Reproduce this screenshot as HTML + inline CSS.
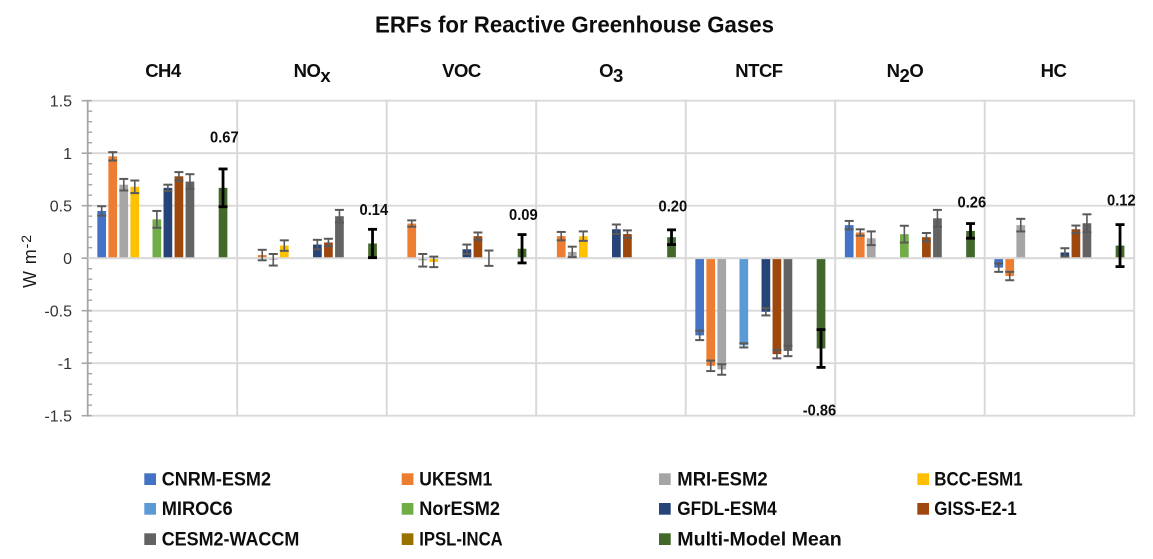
<!DOCTYPE html>
<html lang="en">
<head>
<meta charset="utf-8">
<title>ERFs for Reactive Greenhouse Gases</title>
<style>
  html, body { margin: 0; padding: 0; background: #fff; }
  #chart { display: block; width: 1153px; height: 559px; filter: blur(0.35px); font-family: "Liberation Sans", sans-serif; }
  .legend-text { font-size: 19.5px; font-weight: bold; fill: #0d0d0d; }
</style>
</head>
<body>
<svg id="chart" xmlns="http://www.w3.org/2000/svg" width="1153" height="559" viewBox="0 0 1153 559">
  <rect x="0" y="0" width="1153" height="559" fill="#ffffff"/>
  <text x="375" y="32.3" font-size="23.5" font-weight="bold" fill="#0d0d0d" textLength="399" lengthAdjust="spacingAndGlyphs">ERFs for Reactive Greenhouse Gases</text>
  <g id="grid"></g>
  <g id="axis"></g>
  <g id="categories"></g>
  <g id="bars"></g>
  <g id="zero"></g>
  <g id="errors"></g>
  <g id="values"></g>
  <text transform="translate(36 288) rotate(-90)" font-size="18" fill="#1a1a1a" letter-spacing="0.9">W m<tspan font-size="14" dy="-5">-2</tspan></text>

  <g>
    <g><rect x="144.3" y="473.3" width="11.7" height="11.7" fill="#4472C4"/><text class="legend-text" x="161.7" y="485.7" textLength="109.3" lengthAdjust="spacingAndGlyphs">CNRM-ESM2</text></g>
    <g><rect x="401.7" y="473.3" width="11.7" height="11.7" fill="#ED7D31"/><text class="legend-text" x="419.3" y="485.7" textLength="73" lengthAdjust="spacingAndGlyphs">UKESM1</text></g>
    <g><rect x="659" y="473.3" width="11.7" height="11.7" fill="#A5A5A5"/><text class="legend-text" x="677.3" y="485.7" textLength="90.4" lengthAdjust="spacingAndGlyphs">MRI-ESM2</text></g>
    <g><rect x="917.3" y="473.3" width="11.7" height="11.7" fill="#FFC000"/><text class="legend-text" x="934.3" y="485.7" textLength="88.4" lengthAdjust="spacingAndGlyphs">BCC-ESM1</text></g>
    <g><rect x="144.3" y="503" width="11.7" height="11.7" fill="#5B9BD5"/><text class="legend-text" x="161.7" y="515" textLength="71" lengthAdjust="spacingAndGlyphs">MIROC6</text></g>
    <g><rect x="401.7" y="503" width="11.7" height="11.7" fill="#70AD47"/><text class="legend-text" x="419.3" y="515" textLength="80.7" lengthAdjust="spacingAndGlyphs">NorESM2</text></g>
    <g><rect x="659" y="503" width="11.7" height="11.7" fill="#264478"/><text class="legend-text" x="677.3" y="515" textLength="99.4" lengthAdjust="spacingAndGlyphs">GFDL-ESM4</text></g>
    <g><rect x="917.3" y="503" width="11.7" height="11.7" fill="#9E480E"/><text class="legend-text" x="934.3" y="515" textLength="82.4" lengthAdjust="spacingAndGlyphs">GISS-E2-1</text></g>
    <g><rect x="144.3" y="533.3" width="11.7" height="11.7" fill="#636363"/><text class="legend-text" x="161.7" y="545.7" textLength="137.6" lengthAdjust="spacingAndGlyphs">CESM2-WACCM</text></g>
    <g><rect x="401.7" y="533.3" width="11.7" height="11.7" fill="#997300"/><text class="legend-text" x="419.3" y="545.7" textLength="83.4" lengthAdjust="spacingAndGlyphs">IPSL-INCA</text></g>
    <g><rect x="659" y="533.3" width="11.7" height="11.7" fill="#43682B"/><text class="legend-text" x="677.3" y="545.7" textLength="164.4" lengthAdjust="spacingAndGlyphs">Multi-Model Mean</text></g>
  </g>
</svg>
<script>
// Categories; alternating parts are drawn as subscripts.
const categoryParts = [['CH4'], ['NO', 'x'], ['VOC'], ['O', '3'], ['NTCF'], ['N', '2', 'O'], ['HC']];
const tickValues = [1.5, 1, 0.5, 0, -0.5, -1, -1.5];
const tickLabels = ['1.5', '1', '0.5', '0', '-0.5', '-1', '-1.5'];

// ERF per category (W m-2); null where a model has no bar.
const cnrmValues  = [0.45, null, null, null, -0.735, 0.315, -0.09];
const ukesmValues = [0.97, 0.03, 0.33, 0.21, -1.025, 0.245, -0.17];
const mriValues   = [0.70, -0.015, -0.02, 0.06, -1.06, 0.19, 0.315];
const bccValues   = [0.68, 0.12, -0.035, 0.21, null, null, null];
const mirocValues = [null, null, null, null, -0.83, null, null];
const norValues   = [0.37, null, null, null, null, 0.229, null];
const gfdlValues  = [0.67, 0.13, 0.085, 0.276, -0.51, null, 0.055];
const gissValues  = [0.78, 0.15, 0.21, 0.23, -0.914, 0.20, 0.276];
const cesmValues  = [0.73, 0.40, 0.0, null, -0.883, 0.38, 0.333];
const ipslValues  = [null, null, null, null, null, null, null];
const mmmValues   = [0.67, 0.14, 0.09, 0.20, -0.86, 0.26, 0.12];

// Error-bar half widths.
const cnrmErr  = [0.045, null, null, null, 0.045, 0.04, 0.04];
const ukesmErr = [0.04, 0.05, 0.03, 0.04, 0.05, 0.03, 0.04];
const mriErr   = [0.055, 0.055, 0.06, 0.05, 0.05, 0.065, 0.06];
const bccErr   = [0.06, 0.05, 0.05, 0.045, null, null, null];
const mirocErr = [null, null, null, null, 0.02, null, null];
const norErr   = [0.08, null, null, null, null, 0.08, null];
const gfdlErr  = [0.03, 0.045, 0.045, 0.045, 0.035, null, 0.04];
const gissErr  = [0.04, 0.035, 0.035, 0.035, 0.04, 0.04, 0.035];
const cesmErr  = [0.07, 0.06, 0.073, null, 0.05, 0.08, 0.085];
const ipslErr  = [null, null, null, null, null, null, null];
const mmmErr   = [0.18, 0.135, 0.135, 0.07, 0.18, 0.07, 0.20];

const seriesNames = ['cnrm-esm2', 'ukesm1', 'mri-esm2', 'bcc-esm1', 'miroc6', 'noresm2', 'gfdl-esm4', 'giss-e2-1', 'cesm2-waccm', 'ipsl-inca', 'multi-model-mean'];
const seriesValues = [cnrmValues, ukesmValues, mriValues, bccValues, mirocValues, norValues, gfdlValues, gissValues, cesmValues, ipslValues, mmmValues];
const seriesErrors = [cnrmErr, ukesmErr, mriErr, bccErr, mirocErr, norErr, gfdlErr, gissErr, cesmErr, ipslErr, mmmErr];
const seriesColors = ['#4472C4', '#ED7D31', '#A5A5A5', '#FFC000', '#5B9BD5', '#70AD47', '#264478', '#9E480E', '#636363', '#997300', '#43682B'];

// Slot of each series inside a category (slot 10 is an empty spacer).
const seriesSlots = [0, 1, 2, 3, 4, 5, 6, 7, 8, 9, 11];

const SVGNS = 'http://www.w3.org/2000/svg';
const plotLeft = 87.7, groupWidth = 149.5, slotWidth = 11.03, barWidth = 8.7;
const zeroY = 258.2, pxPerUnit = 105;
const yScale = v => zeroY - v * pxPerUnit;
const groupX = i => plotLeft + i * groupWidth;
const slotX = (cat, slot) => groupX(cat) + 14 + slot * slotWidth;
const plotRight = groupX(categoryParts.length);

function make(parent, tag, attrs, text) {
  const el = document.createElementNS(SVGNS, tag);
  for (const k in attrs) el.setAttribute(k, attrs[k]);
  if (text !== undefined) el.textContent = text;
  parent.appendChild(el);
  return el;
}
const gridG = document.getElementById('grid');
const axisG = document.getElementById('axis');
const catG = document.getElementById('categories');
const barsG = document.getElementById('bars');
const zeroG = document.getElementById('zero');
const errG = document.getElementById('errors');
const valG = document.getElementById('values');

// Horizontal gridlines, major ticks, tick labels
tickValues.forEach((v, i) => {
  const y = yScale(v);
  const line = make(gridG, 'line', { x1: plotLeft, x2: plotRight, y1: y, y2: y, stroke: '#D9D9D9', 'stroke-width': 1.8 });
  
  
  const tick = make(axisG, 'line', { x1: plotLeft - 6, x2: plotLeft + 4, y1: y, y2: y, stroke: '#A6A6A6', 'stroke-width': 1.6 });
  
  
  const label = make(axisG, 'text', { x: 72, y: y + 5.6, 'text-anchor': 'end', 'font-size': 16, fill: '#333333' }, tickLabels[i]);
  
  
});

// Vertical gridlines at category boundaries
categoryParts.forEach((parts, i) => {
  const x = groupX(i + 1);
  const line = make(gridG, 'line', { x1: x, x2: x, y1: yScale(1.5) - 0.9, y2: yScale(-1.5) + 0.9, stroke: '#D9D9D9', 'stroke-width': 2 });
  
  
});

// Axis line and minor ticks
const axisLine = make(axisG, 'line', { x1: plotLeft, x2: plotLeft, y1: yScale(1.5) - 0.9, y2: yScale(-1.5) + 0.9, stroke: '#A6A6A6', 'stroke-width': 1.8 });


for (let t = -14; t <= 14; t++) {
  if (t % 5 === 0) continue;
  const y = yScale(t / 10);
  const minor = make(axisG, 'line', { x1: plotLeft, x2: plotLeft + 4.5, y1: y, y2: y, stroke: '#A6A6A6', 'stroke-width': 1.4 });
  
  
}

// Category labels
const categoryNudge = [0.5, 0, 0, 0, -1.5, -5, -6];
categoryParts.forEach((parts, i) => {
  const t = make(catG, 'text', { x: groupX(i) + groupWidth / 2 + categoryNudge[i], y: 77.2, 'text-anchor': 'middle', 'font-size': 18.5, 'letter-spacing': -0.5, 'font-weight': 'bold', fill: '#0d0d0d' });
  
  
  parts.forEach((p, j) => {
    const isSub = j % 2 === 1;
    const back = j > 0 && !isSub;
    const span = make(t, 'tspan', { dy: isSub ? 4.6 : (back ? -4.6 : 0) }, p);
    
    
  });
});

// Bars
seriesValues.forEach((vals, s) => {
  vals.forEach((v, c) => {
    if (v === null) return;
    const cx = slotX(c, seriesSlots[s]);
    const y0 = yScale(0), y1 = yScale(v);
    const bar = make(barsG, 'rect', { x: cx - barWidth / 2, y: Math.min(y0, y1), width: barWidth, height: Math.abs(y1 - y0), fill: seriesColors[s] });
    
    
  });
});

// Zero line sits over the bars
const zeroLine = make(zeroG, 'line', { x1: plotLeft, x2: plotRight, y1: yScale(0), y2: yScale(0), stroke: '#D9D9D9', 'stroke-width': 1.8 });



// Error bars
seriesValues.forEach((vals, s) => {
  const isMean = s === seriesValues.length - 1;
  const color = isMean ? '#000000' : '#595959';
  const stemW = isMean ? 2.8 : 1.6;
  const capW = isMean ? 2.8 : 2;
  vals.forEach((v, c) => {
    const e = seriesErrors[s][c];
    if (v === null || e === null) return;
    const cx = slotX(c, seriesSlots[s]);
    const top = yScale(v + e), bot = yScale(v - e);
    const g = make(errG, 'g', {});
    
    
    make(g, 'line', { x1: cx, x2: cx, y1: top, y2: bot, stroke: color, 'stroke-width': stemW });
    make(g, 'line', { x1: cx - 4.5, x2: cx + 4.5, y1: top, y2: top, stroke: color, 'stroke-width': capW });
    make(g, 'line', { x1: cx - 4.5, x2: cx + 4.5, y1: bot, y2: bot, stroke: color, 'stroke-width': capW });
  });
});

// Printed multi-model mean values: lifted above the error bar, or below it for negative means
const labelLift = [26.5, 14.3, 14.7, 18.2, -48.3, 16.2, 19];
mmmValues.forEach((v, c) => {
  const e = mmmErr[c];
  const anchorY = v < 0 ? yScale(v - e) : yScale(v + e);
  const neg = v < 0;
  const t = make(valG, 'text', { x: groupX(c + 1) + (neg ? 1 : 1.5), y: anchorY - labelLift[c], 'text-anchor': 'end', 'font-size': 15.5, 'font-weight': 'bold', fill: '#0d0d0d', textLength: neg ? 33.4 : 28.7, lengthAdjust: 'spacingAndGlyphs' }, v.toFixed(2));
  
  
});
</script>
</body>
</html>
